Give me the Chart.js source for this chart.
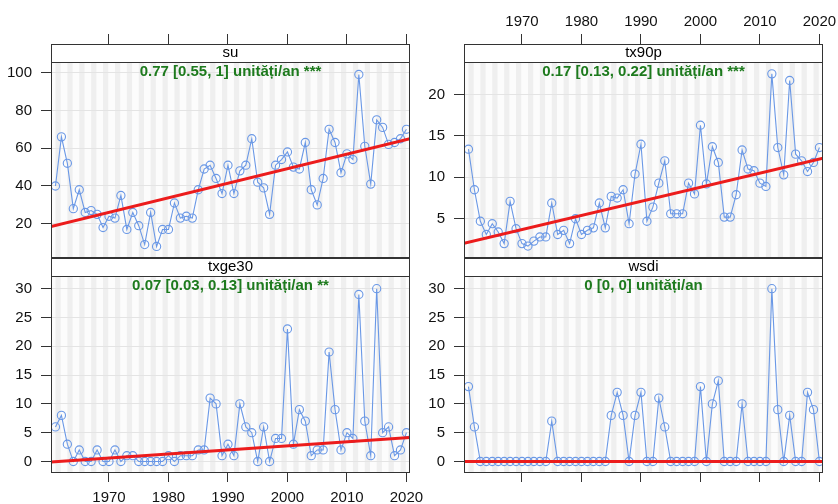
<!DOCTYPE html>
<html>
<head>
<meta charset="utf-8">
<script src="https://cdn.jsdelivr.net/npm/chart.js@4/dist/chart.umd.min.js"></script>
<style>
  html, body { margin: 0; padding: 0; background: #ffffff; }
  #wrap { position: relative; width: 838px; height: 504px; overflow: hidden; background: #ffffff; }
  #wrap canvas { position: absolute; left: 0; top: 0; }
</style>
</head>
<body>
<div id="wrap">
  <canvas id="p_su" width="838" height="504"></canvas>
  <canvas id="p_tx90p" width="838" height="504"></canvas>
  <canvas id="p_txge30" width="838" height="504"></canvas>
  <canvas id="p_wsdi" width="838" height="504"></canvas>
</div>
<script>
// Years of the series
const years = [
  1961, 1962, 1963, 1964, 1965, 1966, 1967, 1968, 1969, 1970,
  1971, 1972, 1973, 1974, 1975, 1976, 1977, 1978, 1979, 1980,
  1981, 1982, 1983, 1984, 1985, 1986, 1987, 1988, 1989, 1990,
  1991, 1992, 1993, 1994, 1995, 1996, 1997, 1998, 1999, 2000,
  2001, 2002, 2003, 2004, 2005, 2006, 2007, 2008, 2009, 2010,
  2011, 2012, 2013, 2014, 2015, 2016, 2017, 2018, 2019, 2020
];

// Summer days (su)
const su = [
  40, 66, 52, 28, 38, 26, 27, 25, 18, 24,
  23, 35, 17, 26, 19, 9, 26, 8, 17, 17,
  31, 23, 24, 23, 38, 49, 51, 44, 36, 51,
  36, 48, 51, 65, 42, 39, 25, 51, 54, 58,
  50, 49, 63, 38, 30, 44, 70, 63, 47, 57,
  54, 99, 61, 41, 75, 71, 62, 63, 65, 70
];

// Warm days percentage (tx90p)
const tx90p = [
  13.4, 8.5, 4.7, 3.1, 4.4, 3.4, 2.0, 7.1, 3.8, 2.0,
  1.7, 2.3, 2.8, 2.8, 6.9, 3.1, 3.6, 2.0, 5.0, 3.1,
  3.6, 3.9, 6.9, 3.9, 7.7, 7.5, 8.5, 4.4, 10.4, 14.0,
  4.7, 6.4, 9.3, 12.0, 5.6, 5.6, 5.6, 9.3, 8.0, 16.3,
  9.2, 13.7, 11.8, 5.2, 5.2, 7.9, 13.3, 11.0, 10.8, 9.3,
  8.9, 22.5, 13.6, 10.3, 21.7, 12.8, 12.0, 10.7, 11.8, 13.6
];

// Days with Tmax >= 30 (txge30)
const txge30 = [
  6, 8, 3, 0, 2, 0, 0, 2, 0, 0,
  2, 0, 1, 1, 0, 0, 0, 0, 0, 1,
  0, 1, 1, 1, 2, 2, 11, 10, 1, 3,
  1, 10, 6, 5, 0, 6, 0, 4, 4, 23,
  3, 9, 7, 1, 2, 2, 19, 9, 2, 5,
  4, 29, 7, 1, 30, 5, 6, 1, 2, 5
];

// Warm spell duration index (wsdi)
const wsdi = [
  13, 6, 0, 0, 0, 0, 0, 0, 0, 0,
  0, 0, 0, 0, 7, 0, 0, 0, 0, 0,
  0, 0, 0, 0, 8, 12, 8, 0, 8, 12,
  0, 0, 11, 6, 0, 0, 0, 0, 0, 13,
  0, 10, 14, 0, 0, 0, 10, 0, 0, 0,
  0, 30, 9, 0, 8, 0, 0, 12, 9, 0
];

// Trend slopes (units per year) and trend level at 1990
const trendSlope = { su: 0.77, tx90p: 0.17, txge30: 0.07, wsdi: 0 };
const trendAt1990 = { su: 41.5, tx90p: 7.1, txge30: 2.0, wsdi: 0 };
const trendNotes = {
  su: '0.77 [0.55, 1] unități/an ***',
  tx90p: '0.17 [0.13, 0.22] unități/an ***',
  txge30: '0.07 [0.03, 0.13] unități/an **',
  wsdi: '0 [0, 0] unități/an'
};

// Tick labels
const yearTicks = [1970, 1980, 1990, 2000, 2010, 2020];
const suTicks = [20, 40, 60, 80, 100];
const tx90pTicks = [5, 10, 15, 20];
const countTicks = [0, 5, 10, 15, 20, 25, 30];

const FONT = '"Liberation Sans", Arial, Helvetica, sans-serif';
const BLUE = '#6a98e6';
const RED = '#ec1c1c';
const GREEN = '#1d7a1d';
const INK = '#333333';
const X_MIN = 1960.25, X_MAX = 2020.6;

const panels = [
  { id: 'p_su', name: 'su', values: su, yMin: 1.9, yMax: 105.6, yTicks: suTicks,
    box: { l: 51, r: 410, t: 62, b: 258 }, row: 'top', xLabels: false },
  { id: 'p_tx90p', name: 'tx90p', values: tx90p, yMin: 0.26, yMax: 23.93, yTicks: tx90pTicks,
    box: { l: 464, r: 823, t: 62, b: 258 }, row: 'top', xLabels: true },
  { id: 'p_txge30', name: 'txge30', values: txge30, yMin: -2.0, yMax: 32.2, yTicks: countTicks,
    box: { l: 51, r: 410, t: 276, b: 473 }, row: 'bottom', xLabels: true },
  { id: 'p_wsdi', name: 'wsdi', values: wsdi, yMin: -2.0, yMax: 32.2, yTicks: countTicks,
    box: { l: 464, r: 823, t: 276, b: 473 }, row: 'bottom', xLabels: false }
];

const STRIP_H = 18;
const Y_AXIS_W = 51;

function panelPlugin(p) {
  return {
    id: 'latticePanel_' + p.name,
    beforeDraw(chart) {
      const a = chart.chartArea, xs = chart.scales.x, c = chart.ctx;
      c.save();
      c.fillStyle = '#fcfcfc';
      c.fillRect(a.left, a.top, a.right - a.left, a.bottom - a.top);
      // alternating year bands
      c.beginPath();
      c.rect(a.left, a.top, a.right - a.left, a.bottom - a.top);
      c.clip();
      c.fillStyle = '#efefef';
      years.forEach(function (y) {
        if (y % 2 === 1) {
          const x0 = xs.getPixelForValue(y);
          const x1 = xs.getPixelForValue(y + 0.88);
          c.fillRect(x0, a.top, x1 - x0, a.bottom - a.top);
        }
      });
      c.restore();
    },
    beforeDatasetsDraw(chart) {
      const a = chart.chartArea, c = chart.ctx;
      c.save();
      c.fillStyle = GREEN;
      c.font = 'bold 15px ' + FONT;
      c.textAlign = 'center';
      c.textBaseline = 'middle';
      c.fillText(trendNotes[p.name], (a.left + a.right) / 2, a.top + 9.5);
      c.restore();
    },
    afterDraw(chart) {
      const a = chart.chartArea, c = chart.ctx;
      c.save();
      // strip
      c.fillStyle = '#ffffff';
      c.fillRect(a.left, a.top - STRIP_H, a.right - a.left, STRIP_H);
      c.strokeStyle = INK;
      c.lineWidth = 1;
      c.strokeRect(a.left + 0.5, a.top - STRIP_H + 0.5, a.right - a.left - 1, STRIP_H);
      c.fillStyle = '#000000';
      c.font = '15px ' + FONT;
      c.textAlign = 'center';
      c.textBaseline = 'middle';
      c.fillText(p.name, (a.left + a.right) / 2, a.top - STRIP_H / 2);
      // panel border
      c.strokeRect(a.left + 0.5, a.top + 0.5, a.right - a.left - 1, a.bottom - a.top - 1);
      c.restore();
    }
  };
}

function makePanel(p) {
  const points = years.map(function (y, i) { return { x: y, y: p.values[i] }; });
  const slope = trendSlope[p.name], mid = trendAt1990[p.name];
  const trend = [
    { x: X_MIN, y: mid + slope * (X_MIN - 1990) },
    { x: X_MAX, y: mid + slope * (X_MAX - 1990) }
  ];
  const top = p.row === 'top';
  const pad = {
    left: p.box.l - Y_AXIS_W,
    right: 838 - p.box.r,
    top: top ? 0 : p.box.t,
    bottom: top ? 504 - p.box.b : 0
  };
  const xHeight = top ? p.box.t : 504 - p.box.b;

  return new Chart(document.getElementById(p.id), {
    type: 'line',
    data: {
      datasets: [
        { data: trend, borderColor: RED, borderWidth: 3, pointRadius: 0,
          fill: false, tension: 0, order: 1 },
        { data: points, borderColor: BLUE, borderWidth: 1.1, pointRadius: 4.1,
          pointBorderWidth: 1.1, pointBorderColor: BLUE,
          pointBackgroundColor: 'rgba(0,0,0,0)', fill: false, tension: 0, order: 2 }
      ]
    },
    options: {
      responsive: false,
      animation: false,
      devicePixelRatio: 1,
      layout: { padding: pad },
      plugins: { legend: { display: false }, tooltip: { enabled: false } },
      scales: {
        x: {
          type: 'linear',
          position: top ? 'top' : 'bottom',
          min: X_MIN, max: X_MAX,
          afterBuildTicks(s) { s.ticks = yearTicks.map(function (v) { return { value: v }; }); },
          afterFit(s) {
            s.height = xHeight;
            s.paddingLeft = 0; s.paddingRight = 0; s.paddingTop = 0; s.paddingBottom = 0;
          },
          grid: { drawOnChartArea: false, drawTicks: true,
                  tickLength: top ? STRIP_H + 10 : 9, tickColor: INK, tickWidth: 1 },
          border: { display: false },
          ticks: {
            color: p.xLabels ? '#111111' : 'rgba(0,0,0,0)',
            font: { family: FONT, size: 15 },
            padding: top ? 3 : 7,
            maxRotation: 0, autoSkip: false,
            callback(v) { return String(v); }
          }
        },
        y: {
          type: 'linear',
          position: 'left',
          min: p.yMin, max: p.yMax,
          afterBuildTicks(s) { s.ticks = p.yTicks.map(function (v) { return { value: v }; }); },
          afterFit(s) {
            s.width = Y_AXIS_W;
            s.paddingLeft = 0; s.paddingRight = 0; s.paddingTop = 0; s.paddingBottom = 0;
          },
          grid: { drawOnChartArea: true, color: '#e4e4e4', lineWidth: 1,
                  drawTicks: true, tickLength: 10, tickColor: INK, tickWidth: 1 },
          border: { display: false },
          ticks: { color: '#111111', font: { family: FONT, size: 15 }, padding: 9,
                   autoSkip: false }
        }
      }
    },
    plugins: [panelPlugin(p)]
  });
}

panels.forEach(makePanel);
</script>
</body>
</html>
